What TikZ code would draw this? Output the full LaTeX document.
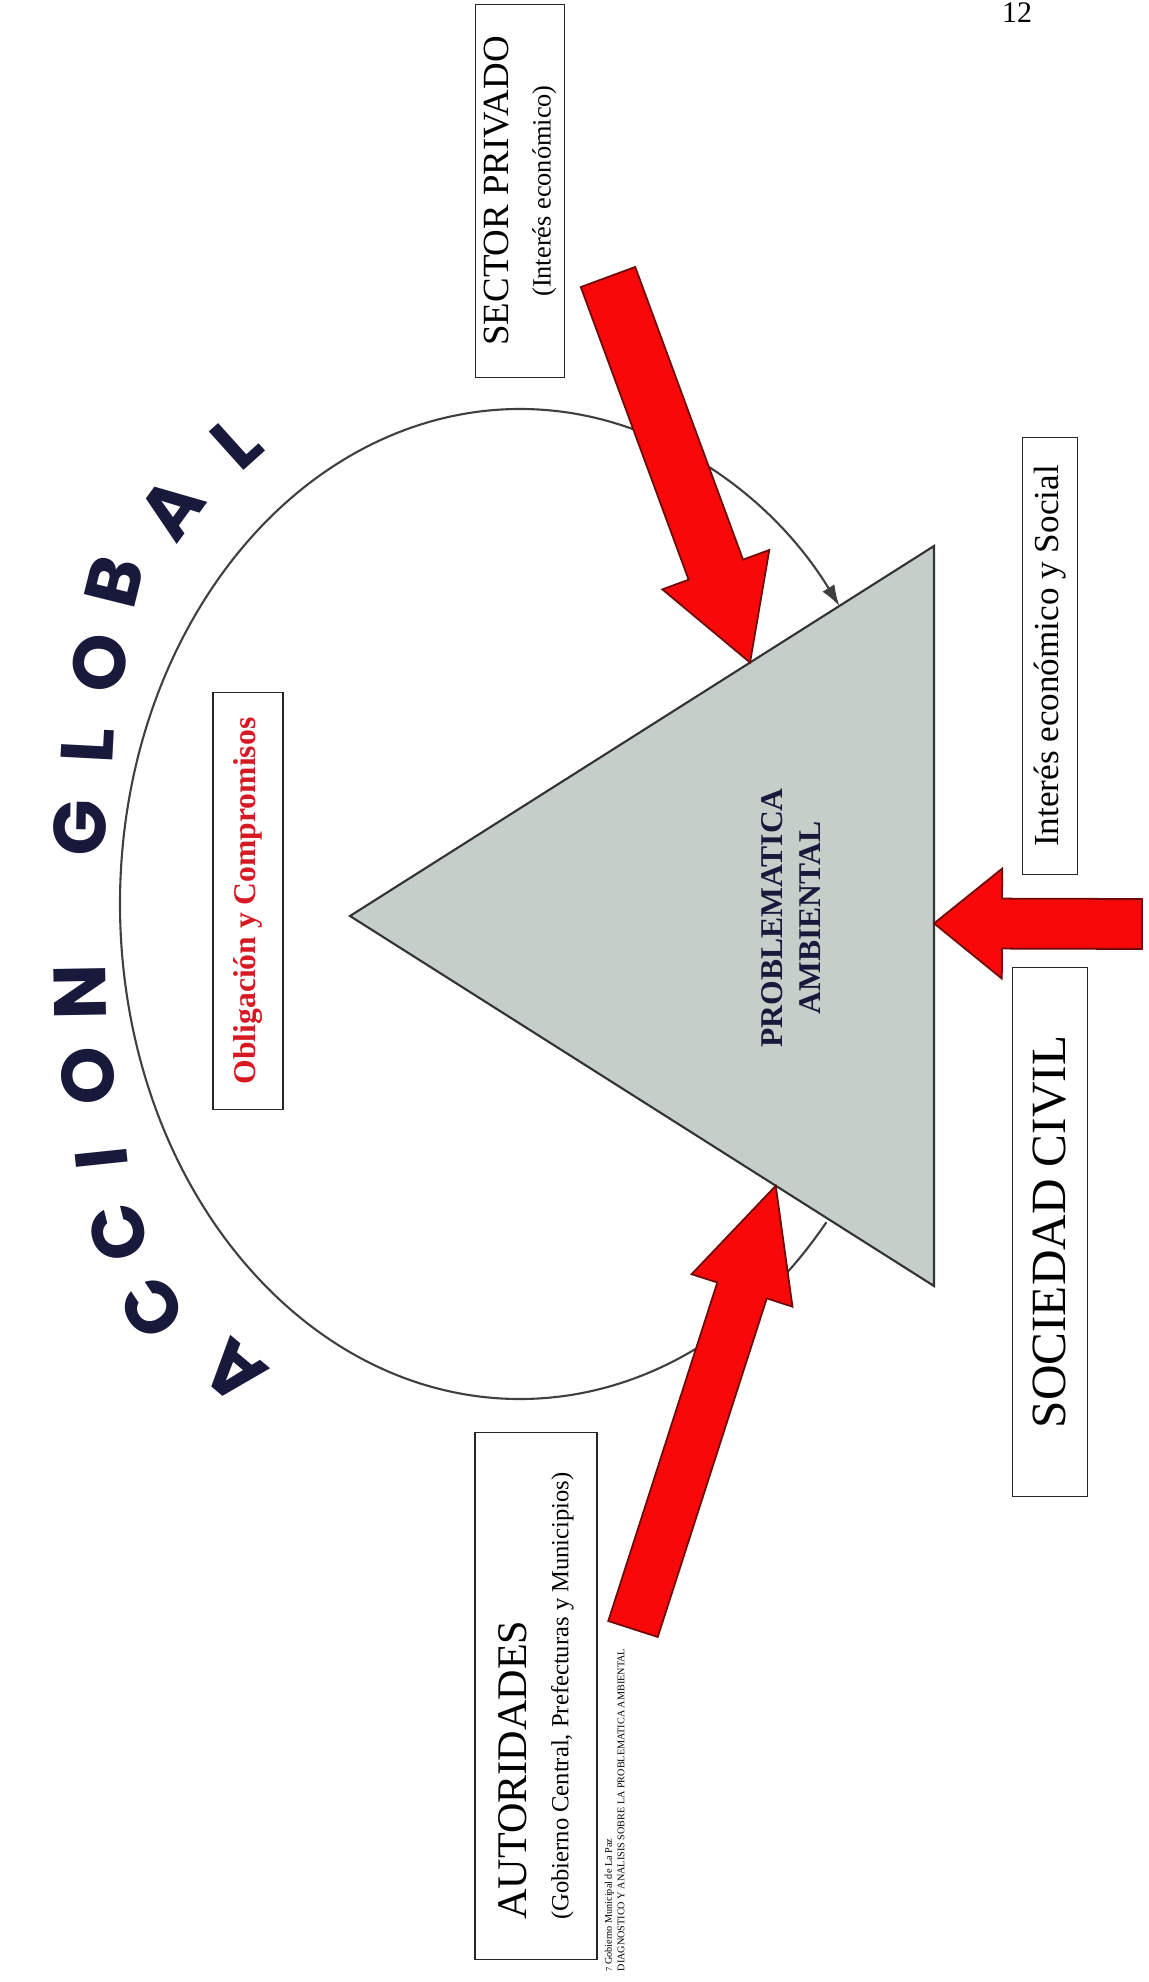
\documentclass[tikz,border=0pt]{standalone}
\usepackage{fontspec}
\setmainfont{Liberation Serif}
\newfontfamily\handfont{Poppins}
\usetikzlibrary{calc, arrows.meta}

\definecolor{arrowred}{RGB}{248,8,8}
\definecolor{arrowedge}{RGB}{110,10,10}
\definecolor{trifill}{RGB}{198,206,202}
\definecolor{navy}{RGB}{25,25,60}
\definecolor{titlered}{RGB}{215,25,35}

% fat red arrow: name, tail, tip, half shaft, half head, head length
\newcommand\redarrow[6]{%
  \coordinate (#1-h) at ($(#3)!#6!(#2)$);
  \filldraw[bigarrow] ($(#2)!#4!90:(#3)$) -- ($(#1-h)!#4!-90:(#2)$) -- ($(#1-h)!#5!-90:(#2)$) -- (#3)
    -- ($(#1-h)!#5!90:(#2)$) -- ($(#1-h)!#4!90:(#2)$) -- ($(#2)!#4!-90:(#3)$) -- cycle;}

\begin{document}
\begin{tikzpicture}[x=0.1mm, y=-0.1mm]
\tikzset{every node/.style={inner sep=0pt}}
\tikzset{labelbox/.style={draw=black!85, fill=white, line width=0.5pt, rotate=90, align=center}}
\tikzset{bigarrow/.style={fill=arrowred, draw=arrowedge, line width=0.5pt}}
\tikzset{ringline/.style={draw=black!75, line width=0.6pt}}
\tikzset{letter/.style={font=\handfont\bfseries\fontsize{21}{21}\selectfont, text=navy}}

\fill[white] (0,0) rectangle (1149,1982);
\useasboundingbox (0,0) rectangle (1149,1982);

\coordinate (apex) at (350,916);
\coordinate (top) at (934,546);
\coordinate (bottom) at (934,1286);
\coordinate (ring) at (520,904);

% ring round the triangle
\draw[ringline, -{Latex[length=6pt, width=4pt]}] ($(ring)+(40:400 and 495)$)
  arc[start angle=40, end angle=323, x radius=400, y radius=495];

\filldraw[fill=trifill, draw=black!80, line width=0.6pt] (apex) -- (top) -- (bottom) -- cycle;
\node[font=\bfseries\fontsize{9}{10.8}\selectfont, text=navy, rotate=90, align=center] (problema) at (791,918) {PROBLEMATICA\\AMBIENTAL};

% title letters
\foreach \ch/\px/\py/\ang [count=\i] in {A/234/1372/140, C/152/1308/124, C/118/1232/104, I/102/1158/96,
    O/88/1076/93, N/80/992/91, G/80/828/89, L/88/746/87, O/100/663/84, B/114/582/76, A/172/508/54, L/236/442/42}
  \node[letter, rotate=\ang] (acc\i) at (\px,\py) {\ch};

% actors
\node[labelbox, minimum width=37.3mm, minimum height=8.9mm] (sector) at (520,191)
  {{\fontsize{10.5}{12}\selectfont SECTOR PRIVADO}\\{\fontsize{7.5}{9}\selectfont (Interés económico)}};
\node[labelbox, minimum width=52.7mm, minimum height=12.2mm, align=left] (autor) at (536,1696)
  {{\fontsize{12}{14}\selectfont AUTORIDADES}\\{\fontsize{7}{9}\selectfont (Gobierno Central, Prefecturas y Municipios)}};
\node[labelbox, minimum width=43.7mm, minimum height=5.5mm, font=\fontsize{10}{12}\selectfont] (interes) at (1050,656) {Interés económico y Social};
\node[labelbox, minimum width=52.9mm, minimum height=7.5mm, font=\fontsize{14}{16}\selectfont] (sociedad) at (1050,1232) {SOCIEDAD CIVIL};
\node[labelbox, minimum width=41.7mm, minimum height=7mm, text=titlered, font=\bfseries\fontsize{9}{11}\selectfont] (oblig) at (248,901) {Obligación y Compromisos};

% pushes on the problem
\coordinate (sp-tail) at (608,277);
\coordinate (sp-tip) at ($(apex)!0.685!(top)$);
\redarrow{sp}{sp-tail}{sp-tip}{2.9mm}{5.7mm}{9.9mm}
\coordinate (au-tail) at (633,1629);
\coordinate (au-tip) at ($(apex)!0.729!(bottom)$);
\redarrow{au}{au-tail}{au-tip}{2.6mm}{5.3mm}{11mm}
\coordinate (sc-tail) at (1142,924);
\coordinate (sc-tip) at ($(top)!0.51!(bottom)$);
\redarrow{sc}{sc-tail}{sc-tip}{2.5mm}{5.5mm}{6.8mm}

\node[font=\fontsize{8.5}{10}\selectfont] (page) at (1017,13) {12};
\node[rotate=90, anchor=north west, font=\fontsize{2.9}{3.6}\selectfont, align=left] (nota) at (604,1972)
  {{\fontsize{2.4}{3}\selectfont 7} Gobierno Municipal de La Paz\\DIAGNOSTICO Y ANALISIS SOBRE LA PROBLEMATICA AMBIENTAL};
\end{tikzpicture}
\end{document}
